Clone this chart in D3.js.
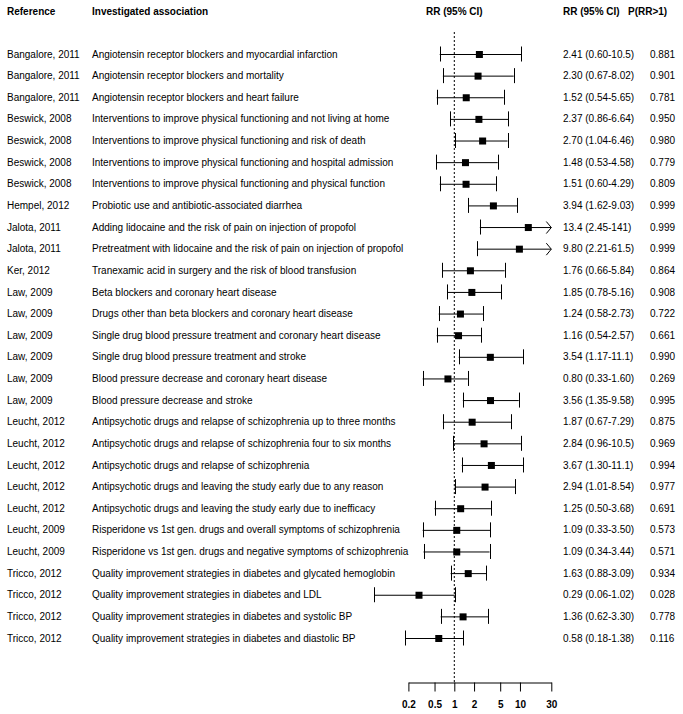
<!DOCTYPE html>
<html>
<head>
<meta charset="utf-8">
<script src="https://cdn.jsdelivr.net/npm/d3@7"></script>
<style>
  html, body { margin: 0; padding: 0; background: #fff; }
  svg { display: block; }
  text { font-family: "Liberation Sans", Arial, sans-serif; fill: #000; }
</style>
</head>
<body>
<svg id="chart" width="683" height="714"></svg>
<script>
const references = [
  "Bangalore, 2011","Bangalore, 2011","Bangalore, 2011",
  "Beswick, 2008","Beswick, 2008","Beswick, 2008","Beswick, 2008",
  "Hempel, 2012","Jalota, 2011","Jalota, 2011","Ker, 2012",
  "Law, 2009","Law, 2009","Law, 2009","Law, 2009","Law, 2009","Law, 2009",
  "Leucht, 2012","Leucht, 2012","Leucht, 2012","Leucht, 2012","Leucht, 2012",
  "Leucht, 2009","Leucht, 2009",
  "Tricco, 2012","Tricco, 2012","Tricco, 2012","Tricco, 2012"
];
const associations = [
  "Angiotensin receptor blockers and myocardial infarction",
  "Angiotensin receptor blockers and mortality",
  "Angiotensin receptor blockers and heart failure",
  "Interventions to improve physical functioning and not living at home",
  "Interventions to improve physical functioning and risk of death",
  "Interventions to improve physical functioning and hospital admission",
  "Interventions to improve physical functioning and physical function",
  "Probiotic use and antibiotic-associated diarrhea",
  "Adding lidocaine and the risk of pain on injection of propofol",
  "Pretreatment with lidocaine and the risk of pain on injection of propofol",
  "Tranexamic acid in surgery and the risk of blood transfusion",
  "Beta blockers and coronary heart disease",
  "Drugs other than beta blockers and coronary heart disease",
  "Single drug blood pressure treatment and coronary heart disease",
  "Single drug blood pressure treatment and stroke",
  "Blood pressure decrease and coronary heart disease",
  "Blood pressure decrease and stroke",
  "Antipsychotic drugs and relapse of schizophrenia up to three months",
  "Antipsychotic drugs and relapse of schizophrenia four to six months",
  "Antipsychotic drugs and relapse of schizophrenia",
  "Antipsychotic drugs and leaving the study early due to any reason",
  "Antipsychotic drugs and leaving the study early due to inefficacy",
  "Risperidone vs 1st gen. drugs and overall symptoms of schizophrenia",
  "Risperidone vs 1st gen. drugs and negative symptoms of schizophrenia",
  "Quality improvement strategies in diabetes and glycated hemoglobin",
  "Quality improvement strategies in diabetes and LDL",
  "Quality improvement strategies in diabetes and systolic BP",
  "Quality improvement strategies in diabetes and diastolic BP"
];
const rr    = [2.41,2.30,1.52,2.37,2.70,1.48,1.51,3.94,13.4,9.80,1.76,1.85,1.24,1.16,3.54,0.80,3.56,1.87,2.84,3.67,2.94,1.25,1.09,1.09,1.63,0.29,1.36,0.58];
const lower = [0.60,0.67,0.54,0.86,1.04,0.53,0.60,1.62,2.45,2.21,0.66,0.78,0.58,0.54,1.17,0.33,1.35,0.67,0.96,1.30,1.01,0.50,0.33,0.34,0.88,0.06,0.62,0.18];
const upper = [10.5,8.02,5.65,6.64,6.46,4.58,4.29,9.03,141,61.5,5.84,5.16,2.73,2.57,11.1,1.60,9.58,7.29,10.5,11.1,8.54,3.68,3.50,3.44,3.09,1.02,3.30,1.38];
const rrLabels = [
  "2.41 (0.60-10.5)","2.30 (0.67-8.02)","1.52 (0.54-5.65)","2.37 (0.86-6.64)","2.70 (1.04-6.46)",
  "1.48 (0.53-4.58)","1.51 (0.60-4.29)","3.94 (1.62-9.03)","13.4 (2.45-141)","9.80 (2.21-61.5)",
  "1.76 (0.66-5.84)","1.85 (0.78-5.16)","1.24 (0.58-2.73)","1.16 (0.54-2.57)","3.54 (1.17-11.1)",
  "0.80 (0.33-1.60)","3.56 (1.35-9.58)","1.87 (0.67-7.29)","2.84 (0.96-10.5)","3.67 (1.30-11.1)",
  "2.94 (1.01-8.54)","1.25 (0.50-3.68)","1.09 (0.33-3.50)","1.09 (0.34-3.44)","1.63 (0.88-3.09)",
  "0.29 (0.06-1.02)","1.36 (0.62-3.30)","0.58 (0.18-1.38)"
];
const pValues = ["0.881","0.901","0.781","0.950","0.980","0.779","0.809","0.999","0.999","0.999","0.864","0.908","0.722","0.661","0.990","0.269","0.995","0.875","0.969","0.994","0.977","0.691","0.573","0.571","0.934","0.028","0.778","0.116"];
const tickValues = [0.2, 0.5, 1, 2, 5, 10, 30];
const headers = ["Reference", "Investigated association", "RR (95% CI)", "RR (95% CI)", "P(RR>1)"];

const svg = d3.select("#chart");
const n = rr.length;
const x = d3.scaleLog().domain([0.2, 30]).range([408.4, 551.3]);
const xMax = 30;
const y = d3.scaleLinear().domain([0, n - 1]).range([54, 638]);

// headers
const hdr = svg.append("g").attr("font-size", "10px").attr("font-weight", "bold");
hdr.append("text").attr("x", 7).attr("y", 15).text(headers[0]);
hdr.append("text").attr("x", 92).attr("y", 15).text(headers[1]);
hdr.append("text").attr("x", x(1)).attr("y", 15).attr("text-anchor", "middle").text(headers[2]);
hdr.append("text").attr("x", 563).attr("y", 15).text(headers[3]);
hdr.append("text").attr("x", 628).attr("y", 15).text(headers[4]);

// null line
svg.append("line")
  .attr("x1", x(1)).attr("x2", x(1))
  .attr("y1", 32).attr("y2", 682)
  .attr("stroke", "#000").attr("stroke-width", 1)
  .attr("stroke-dasharray", "2,2");

const rows = svg.append("g").selectAll("g.row")
  .data(d3.range(n)).join("g").attr("class", "row")
  .attr("transform", i => `translate(0,${y(i)})`);

rows.append("text").attr("x", 7).attr("y", 3.6).attr("font-size", "10px").text(i => references[i]);
rows.append("text").attr("x", 92).attr("y", 3.6).attr("font-size", "10px").text(i => associations[i]);
rows.append("text").attr("x", 563).attr("y", 3.6).attr("font-size", "10px").text(i => rrLabels[i]);
rows.append("text").attr("x", 650).attr("y", 3.6).attr("font-size", "10px").text(i => pValues[i]);

const capH = 7.5;
rows.append("line")
  .attr("x1", i => x(lower[i])).attr("x2", i => x(Math.min(upper[i], xMax)))
  .attr("y1", 0.5).attr("y2", 0.5)
  .attr("stroke", "#000").attr("stroke-width", 1);
rows.append("line")
  .attr("x1", i => Math.round(x(lower[i])) + 0.5).attr("x2", i => Math.round(x(lower[i])) + 0.5)
  .attr("y1", -capH).attr("y2", capH)
  .attr("stroke", "#000").attr("stroke-width", 1);
rows.filter(i => upper[i] <= xMax).append("line")
  .attr("x1", i => Math.round(x(upper[i])) + 0.5).attr("x2", i => Math.round(x(upper[i])) + 0.5)
  .attr("y1", -capH).attr("y2", capH)
  .attr("stroke", "#000").attr("stroke-width", 1);
rows.filter(i => upper[i] > xMax).append("path")
  .attr("d", () => { const ax = x(xMax); return `M${ax - 5},${-5.5}L${ax},0.5L${ax - 5},6.5`; })
  .attr("fill", "none").attr("stroke", "#000").attr("stroke-width", 1);
rows.append("rect")
  .attr("x", i => x(rr[i]) - 3.5).attr("y", -3)
  .attr("width", 7).attr("height", 7)
  .attr("fill", "#000");

// axis
const axis = d3.axisBottom(x)
  .tickValues(tickValues)
  .tickFormat(d => String(d))
  .tickSize(9)
  .tickSizeOuter(0)
  .tickPadding(9);
const gAxis = svg.append("g").attr("transform", "translate(0,682.5)").call(axis);
gAxis.select(".domain").attr("stroke", "#000");
gAxis.selectAll(".tick line").attr("stroke", "#000");
gAxis.selectAll(".tick text")
  .attr("font-family", "'Liberation Sans', Arial, sans-serif")
  .attr("font-size", "10px").attr("font-weight", "bold").attr("fill", "#000");
</script>
</body>
</html>
